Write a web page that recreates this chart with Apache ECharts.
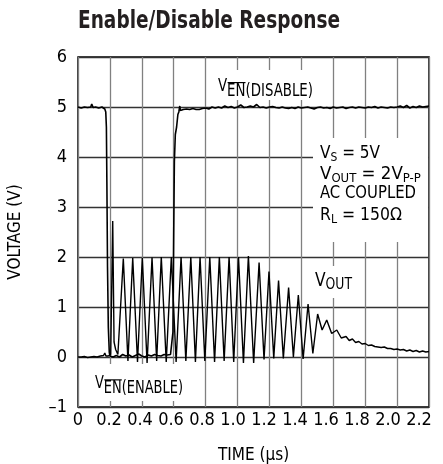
<!DOCTYPE html>
<html><head><meta charset="utf-8">
<script src="https://cdn.jsdelivr.net/npm/echarts@6/dist/echarts.min.js"></script>
<style>html,body{margin:0;padding:0;background:#fff}#c{width:443px;height:464px}</style>
</head><body><div id="c"></div>
<script>
// ---- data ----
const xTicks = [0, 0.2, 0.4, 0.6, 0.8, 1.0, 1.2, 1.4, 1.6, 1.8, 2.0, 2.2];
const yTicks = [-1, 0, 1, 2, 3, 4, 5, 6];

const venTime = [0, 0.02, 0.04, 0.06, 0.08, 0.086, 0.095, 0.11, 0.13, 0.15, 0.16, 0.168, 0.174, 0.178, 0.181, 0.185, 0.19, 0.196, 0.2,
  0.22, 0.24, 0.26, 0.28, 0.30, 0.32, 0.34, 0.36, 0.38, 0.40, 0.42, 0.44, 0.46, 0.48, 0.50, 0.52, 0.54, 0.56, 0.58, 0.59,
  0.595, 0.6, 0.604, 0.61, 0.618, 0.626, 0.632, 0.638, 0.642,
  0.65, 0.66, 0.67, 0.68, 0.69, 0.70, 0.71, 0.72, 0.73, 0.74, 0.75, 0.76, 0.78, 0.80, 0.82, 0.84, 0.86, 0.88, 0.90, 0.92, 0.94, 0.96, 0.98,
  1.00, 1.02, 1.04, 1.06, 1.08, 1.10, 1.12, 1.14, 1.16, 1.18, 1.20, 1.22, 1.24, 1.26, 1.28, 1.30, 1.32, 1.34, 1.36, 1.38, 1.40, 1.42, 1.44,
  1.46, 1.48, 1.50, 1.52, 1.54, 1.56, 1.58, 1.60, 1.62, 1.64, 1.66, 1.68, 1.70, 1.72, 1.74, 1.76, 1.78, 1.80, 1.82, 1.84, 1.86, 1.88,
  1.90, 1.92, 1.94, 1.96, 1.98, 2.00, 2.02, 2.04, 2.06, 2.08, 2.10, 2.12, 2.14, 2.16, 2.18, 2.20];
const venValue = [5.0, 4.98, 5.0, 4.99, 5.0, 5.06, 4.99, 5.0, 4.98, 5.0, 4.99, 4.96, 4.9, 4.6, 3.5, 1.8, 0.6, 0.1, 0.02,
  0.0, 0.03, 0.0, 0.05, 0.02, 0.04, 0.0, 0.03, 0.06, 0.02, 0.0, 0.04, 0.02, 0.05, 0.03, 0.02, 0.05, 0.04, 0.05, 0.05,
  0.5, 2.5, 3.9, 4.45, 4.6, 4.85, 4.9, 5.02, 4.93,
  4.92, 4.95, 4.93, 4.96, 4.93, 4.95, 4.94, 4.97, 4.93, 4.95, 4.98, 4.95, 4.97, 4.98, 4.96, 5.0, 4.98, 5.0, 4.98, 5.02, 4.99, 5.01, 4.98,
  5.0, 5.04, 4.99, 5.0, 5.02, 5.0, 5.05, 4.99, 5.0, 4.98, 5.0, 5.01, 4.99, 4.98, 5.0, 4.98, 4.97, 4.99, 4.97, 5.0, 4.98, 4.99, 5.0,
  4.98, 4.96, 4.99, 5.0, 4.98, 4.99, 4.97, 5.0, 4.98, 4.99, 5.0, 4.97, 4.99, 5.0, 4.98, 5.0, 4.99, 4.98, 5.0, 4.99, 5.01, 4.98,
  5.0, 4.99, 4.98, 5.0, 4.99, 5.0, 5.02, 4.99, 5.03, 4.98, 5.01, 4.99, 5.02, 5.0, 5.01, 5.02];

const voutTime = [0, 0.02, 0.04, 0.06, 0.08, 0.10, 0.12, 0.14, 0.16, 0.168, 0.175, 0.19, 0.205, 0.2176, 0.226, 0.236, 0.25,
  0.284, 0.313, 0.343, 0.373, 0.403, 0.433, 0.464, 0.493, 0.522, 0.553, 0.585, 0.615, 0.646, 0.676, 0.707, 0.736, 0.765, 0.795,
  0.826, 0.856, 0.886, 0.916, 0.947, 0.976, 1.006, 1.037, 1.068, 1.101, 1.135, 1.166, 1.197, 1.227, 1.257, 1.287, 1.320, 1.350,
  1.381, 1.411, 1.442, 1.472, 1.502, 1.53, 1.559, 1.59, 1.622, 1.65, 1.68, 1.70, 1.72, 1.74, 1.76, 1.78, 1.80, 1.82, 1.84, 1.86,
  1.88, 1.90, 1.92, 1.94, 1.96, 1.98, 2.00, 2.02, 2.04, 2.06, 2.08, 2.10, 2.12, 2.14, 2.16, 2.18, 2.20];
const voutValue = [0.0, 0.0, 0.01, -0.01, 0.0, 0.01, 0.0, 0.02, 0.03, 0.08, 0.02, 0.02, 0.05, 2.72, 0.3, 0.15, 0.05,
  1.97, -0.08, 1.98, -0.1, 1.98, -0.12, 1.99, -0.08, 2.0, -0.1, 2.0, -0.1, 2.0, -0.08, 2.0, -0.1, 2.0, -0.08,
  2.0, -0.1, 2.0, -0.08, 2.0, -0.1, 2.0, -0.12, 2.02, -0.12, 1.89, -0.05, 1.71, -0.03, 1.53, -0.03, 1.39, 0.0,
  1.24, -0.04, 1.06, 0.07, 0.86, 0.54, 0.74, 0.47, 0.54, 0.38, 0.41, 0.33, 0.36, 0.29, 0.31, 0.26, 0.27, 0.23, 0.24, 0.21,
  0.2, 0.19, 0.2, 0.17, 0.17, 0.15, 0.16, 0.14, 0.15, 0.12, 0.14, 0.11, 0.13, 0.1, 0.12, 0.1, 0.11];

// ---- chart ----
const FONT = "'Liberation Sans Narrow', 'DejaVu Sans Condensed', 'Liberation Sans', sans-serif";
const ctx = document.createElement('canvas').getContext('2d');
function measure(t, s, w) { ctx.font = (w || 'normal') + ' ' + s + 'px ' + FONT; return ctx.measureText(t).width; }

// parts: [text, fontSize, dy, overline]; the group is squeezed horizontally to targetW
function label(x, yc, parts, targetW, box) {
  const out = [];
  if (box) out.push({ type: 'rect', shape: { x: box[0], y: box[1], width: box[2], height: box[3] }, style: { fill: '#fff' }, z: 1 });
  const children = [];
  let cx = 0;
  parts.forEach(p => {
    const w = measure(p[0], p[1]);
    children.push({ type: 'text', x: cx, y: yc + p[2], z: 3,
      style: { text: p[0], fontSize: p[1], fontFamily: FONT, fill: '#000', align: 'left', verticalAlign: 'middle' } });
    if (p[3]) {
      const yl = yc + p[2] - p[1] * 0.36 - 2.5;
      children.push({ type: 'line', z: 3, shape: { x1: cx + 0.5, y1: yl, x2: cx + w, y2: yl }, style: { stroke: '#000', lineWidth: 1.2 } });
    }
    cx += w;
  });
  const sx = Math.min(1, targetW / cx);
  out.push({ type: 'group', x: x, y: 0, scaleX: sx, z: 3, children: children });
  return out;
}

let elems = [];
const titleText = 'Enable/Disable Response';
const titleW = measure(titleText, 24, 'bold');
elems.push({ type: 'text', x: 78, y: 22, scaleX: Math.min(1, 262 / titleW), z: 3,
  style: { text: titleText, fontSize: 24, fontWeight: 'bold', fontFamily: FONT, fill: '#231f20', align: 'left', verticalAlign: 'middle' } });
elems = elems.concat(label(218, 86.2, [['V', 17, 0], ['EN', 17, 5, true], ['(DISABLE)', 17, 5]], 95, [211, 70, 108, 30]));
elems = elems.concat(label(95, 383.5, [['V', 17, 0], ['EN', 17, 5, true], ['(ENABLE)', 17, 5]], 88, [88, 364, 102, 37]));
elems = elems.concat(label(315, 281, [['V', 20, 0], ['OUT', 16, 4]], 37, [308, 266, 50, 32]));
elems.push({ type: 'rect', shape: { x: 313, y: 138, width: 115, height: 104 }, style: { fill: '#fff' }, z: 1 });
elems = elems.concat(label(320, 153.5, [['V', 18.5, 0], ['S', 13, 4.5], [' = 5V', 18.5, 0]], 60));
elems = elems.concat(label(320, 174.5, [['V', 18.5, 0], ['OUT', 13, 4.5], [' = 2V', 18.5, 0], ['P-P', 13, 4.5]], 101));
elems = elems.concat(label(320, 193.5, [['AC COUPLED', 18.5, 0]], 96));
elems = elems.concat(label(320, 215, [['R', 18.5, 0], ['L', 13, 4.5], [' = 150Ω', 18.5, 0]], 82));

const xLabelFmt = v => v === 0 ? '0' : v.toFixed(1);
const chart = echarts.init(document.getElementById('c'), null, { renderer: 'canvas' });
chart.setOption({
  animation: false,
  backgroundColor: '#fff',
  grid: { left: 78, right: 14, top: 57, bottom: 57, show: true, borderColor: '#000', borderWidth: 1.5,
    backgroundColor: 'transparent', containLabel: false, outerBoundsMode: 'none' },
  xAxis: [
    { type: 'value', min: xTicks[0], max: xTicks[xTicks.length - 1], interval: 0.2,
      name: 'TIME (µs)', nameLocation: 'middle', nameGap: 40,
      nameTextStyle: { fontSize: 17, fontFamily: FONT, color: '#000' },
      axisLine: { show: false }, axisTick: { show: false }, axisLabel: { show: false },
      splitLine: { show: true, lineStyle: { color: '#808080', width: 1.3 } } },
    // label-only axis: the original's tick labels are set slightly tighter than the grid
    { type: 'value', position: 'bottom', min: xTicks[0], max: 2.2645, interval: 0.2,
      axisLine: { show: false }, axisTick: { show: false }, splitLine: { show: false },
      axisLabel: { fontSize: 18, fontFamily: FONT, color: '#000', margin: 4, showMaxLabel: false,
        formatter: v => xTicks.some(t => Math.abs(t - v) < 1e-6) ? xLabelFmt(v) : '' } }
  ],
  yAxis: { type: 'value', min: yTicks[0], max: yTicks[yTicks.length - 1], interval: 1,
    name: 'VOLTAGE (V)', nameLocation: 'middle', nameGap: 54, nameRotate: 90,
    nameTextStyle: { fontSize: 17, fontFamily: FONT, color: '#000' },
    axisLine: { show: false }, axisTick: { show: false },
    axisLabel: { fontSize: 18, fontFamily: FONT, color: '#000', margin: 11,
      formatter: v => v < 0 ? '\u2013' + Math.abs(v) : String(v) },
    splitLine: { show: true, lineStyle: { color: '#333', width: 1.3 } } },
  graphic: { elements: elems },
  series: [
    { type: 'line', name: 'VEN', showSymbol: false, z: 4, lineStyle: { color: '#000', width: 1.6 },
      data: venTime.map((t, i) => [t, venValue[i]]) },
    { type: 'line', name: 'VOUT', showSymbol: false, z: 4, lineStyle: { color: '#000', width: 1.4 },
      data: voutTime.map((t, i) => [t, voutValue[i]]) }
  ]
});
</script></body></html>
